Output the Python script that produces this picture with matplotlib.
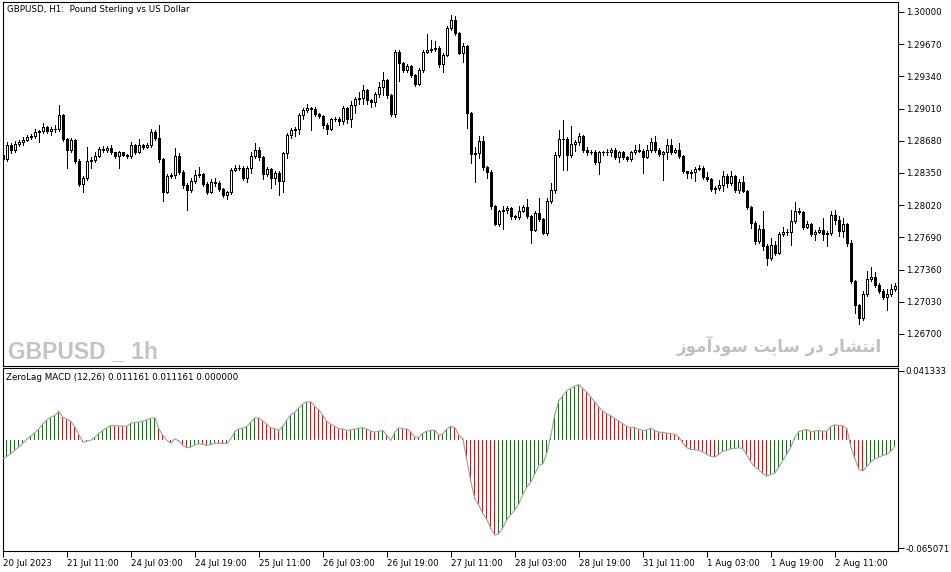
import matplotlib
matplotlib.use("Agg")
import matplotlib.pyplot as plt
from matplotlib import font_manager as fm
import numpy as np

# GBPUSD H1 candles (open = previous close)
first_open = 1.2853
closes = [
    1.2849, 1.2864, 1.2859, 1.2865, 1.2867, 1.2869, 1.2872, 1.2873, 1.2877, 1.2878,
    1.2882, 1.2878, 1.2880, 1.2880, 1.2894, 1.2870, 1.2859, 1.2869, 1.2847, 1.2824,
    1.2830, 1.2847, 1.2848, 1.2852, 1.2860, 1.2859, 1.2861, 1.2856, 1.2852, 1.2856,
    1.2853, 1.2852, 1.2864, 1.2856, 1.2864, 1.2862, 1.2864, 1.2877, 1.2871, 1.2849,
    1.2816, 1.2832, 1.2833, 1.2852, 1.2836, 1.2823, 1.2818, 1.2827, 1.2833, 1.2834,
    1.2824, 1.2816, 1.2826, 1.2825, 1.2819, 1.2812, 1.2815, 1.2838, 1.2840, 1.2840,
    1.2830, 1.2840, 1.2852, 1.2859, 1.2851, 1.2834, 1.2839, 1.2830, 1.2835, 1.2827,
    1.2855, 1.2874, 1.2879, 1.2880, 1.2894, 1.2900, 1.2902, 1.2901, 1.2895, 1.2893,
    1.2884, 1.2880, 1.2890, 1.2890, 1.2888, 1.2902, 1.2890, 1.2905, 1.2911, 1.2912,
    1.2920, 1.2910, 1.2908, 1.2916, 1.2923, 1.2930, 1.2915, 1.2895, 1.2959, 1.2948,
    1.2941, 1.2945, 1.2935, 1.2926, 1.2941, 1.2959, 1.2961, 1.2962, 1.2963, 1.2947,
    1.2956, 1.2984, 1.2992, 1.2978, 1.2958, 1.2965, 1.2896, 1.2854, 1.2855, 1.2868,
    1.2841, 1.2836, 1.2801, 1.2783, 1.2796, 1.2797, 1.2799, 1.2791, 1.2790, 1.2796,
    1.2800, 1.2791, 1.2777, 1.2794, 1.2788, 1.2773, 1.2806, 1.2818, 1.2853, 1.2870,
    1.2870, 1.2853, 1.2865, 1.2867, 1.2873, 1.2859, 1.2857, 1.2856, 1.2846, 1.2856,
    1.2856, 1.2856, 1.2859, 1.2851, 1.2856, 1.2851, 1.2849, 1.2856, 1.2859, 1.2858,
    1.2851, 1.2859, 1.2867, 1.2859, 1.2854, 1.2856, 1.2864, 1.2856, 1.2859, 1.2852,
    1.2837, 1.2835, 1.2836, 1.2839, 1.2840, 1.2831, 1.2829, 1.2819, 1.2820, 1.2823,
    1.2832, 1.2825, 1.2832, 1.2818, 1.2826, 1.2817, 1.2800, 1.2784, 1.2765, 1.2778,
    1.2760, 1.2748, 1.2761, 1.2753, 1.2772, 1.2774, 1.2774, 1.2786, 1.2796, 1.2795,
    1.2780, 1.2783, 1.2772, 1.2774, 1.2777, 1.2772, 1.2773, 1.2792, 1.2787, 1.2776,
    1.2783, 1.2763, 1.2724, 1.2700, 1.2686, 1.2711, 1.2726, 1.2728, 1.2720, 1.2714,
    1.2708, 1.2711, 1.2716, 1.2719]
highs = [
    1.2856, 1.2867, 1.2866, 1.2868, 1.2869, 1.2872, 1.2874, 1.2875, 1.2880, 1.2879,
    1.2886, 1.2883, 1.2882, 1.2884, 1.2905, 1.2895, 1.2871, 1.2871, 1.2870, 1.2849,
    1.2832, 1.2862, 1.2851, 1.2856, 1.2862, 1.2863, 1.2863, 1.2864, 1.2857, 1.2858,
    1.2857, 1.2854, 1.2867, 1.2865, 1.2870, 1.2865, 1.2866, 1.2880, 1.2879, 1.2884,
    1.2850, 1.2834, 1.2835, 1.2861, 1.2855, 1.2838, 1.2825, 1.2830, 1.2838, 1.2841,
    1.2835, 1.2826, 1.2829, 1.2830, 1.2827, 1.2820, 1.2817, 1.2840, 1.2843, 1.2843,
    1.2842, 1.2842, 1.2856, 1.2866, 1.2862, 1.2852, 1.2841, 1.2840, 1.2837, 1.2837,
    1.2857, 1.2876, 1.2881, 1.2882, 1.2896, 1.2902, 1.2906, 1.2903, 1.2903, 1.2896,
    1.2894, 1.2886, 1.2891, 1.2892, 1.2892, 1.2904, 1.2903, 1.2909, 1.2913, 1.2918,
    1.2925, 1.2921, 1.2911, 1.2918, 1.2928, 1.2938, 1.2931, 1.2916, 1.2961, 1.2961,
    1.2949, 1.2947, 1.2946, 1.2936, 1.2943, 1.2961, 1.2977, 1.2971, 1.2970, 1.2965,
    1.2958, 1.2986, 1.2997, 1.2996, 1.2980, 1.2968, 1.2966, 1.2897, 1.2862, 1.2873,
    1.2873, 1.2842, 1.2838, 1.2802, 1.2797, 1.2801, 1.2801, 1.2800, 1.2792, 1.2801,
    1.2802, 1.2808, 1.2792, 1.2796, 1.2809, 1.2789, 1.2809, 1.2825, 1.2856, 1.2879,
    1.2889, 1.2872, 1.2883, 1.2869, 1.2876, 1.2874, 1.2862, 1.2859, 1.2859, 1.2858,
    1.2858, 1.2860, 1.2861, 1.2861, 1.2858, 1.2858, 1.2852, 1.2858, 1.2864, 1.2865,
    1.2860, 1.2864, 1.2871, 1.2873, 1.2861, 1.2858, 1.2870, 1.2870, 1.2861, 1.2866,
    1.2853, 1.2837, 1.2838, 1.2841, 1.2843, 1.2842, 1.2836, 1.2830, 1.2822, 1.2828,
    1.2837, 1.2834, 1.2837, 1.2833, 1.2829, 1.2832, 1.2818, 1.2801, 1.2786, 1.2782,
    1.2796, 1.2762, 1.2768, 1.2765, 1.2774, 1.2780, 1.2778, 1.2797, 1.2805, 1.2799,
    1.2796, 1.2786, 1.2784, 1.2777, 1.2780, 1.2789, 1.2776, 1.2796, 1.2797, 1.2791,
    1.2789, 1.2784, 1.2766, 1.2725, 1.2701, 1.2714, 1.2735, 1.2739, 1.2734, 1.2722,
    1.2716, 1.2716, 1.2721, 1.2722]
lows = [
    1.2843, 1.2847, 1.2855, 1.2857, 1.2863, 1.2864, 1.2868, 1.2870, 1.2871, 1.2867,
    1.2876, 1.2876, 1.2874, 1.2877, 1.2878, 1.2868, 1.2840, 1.2857, 1.2845, 1.2822,
    1.2816, 1.2828, 1.2840, 1.2846, 1.2851, 1.2857, 1.2857, 1.2854, 1.2850, 1.2840,
    1.2852, 1.2850, 1.2850, 1.2854, 1.2855, 1.2860, 1.2861, 1.2862, 1.2869, 1.2846,
    1.2806, 1.2814, 1.2830, 1.2830, 1.2834, 1.2820, 1.2797, 1.2815, 1.2825, 1.2831,
    1.2822, 1.2813, 1.2814, 1.2822, 1.2817, 1.2810, 1.2808, 1.2813, 1.2837, 1.2838,
    1.2828, 1.2826, 1.2835, 1.2850, 1.2848, 1.2829, 1.2832, 1.2820, 1.2824, 1.2812,
    1.2816, 1.2850, 1.2871, 1.2873, 1.2875, 1.2890, 1.2898, 1.2879, 1.2893, 1.2891,
    1.2881, 1.2875, 1.2879, 1.2888, 1.2884, 1.2885, 1.2886, 1.2882, 1.2896, 1.2906,
    1.2906, 1.2906, 1.2903, 1.2904, 1.2913, 1.2915, 1.2912, 1.2893, 1.2892, 1.2929,
    1.2938, 1.2939, 1.2933, 1.2924, 1.2925, 1.2939, 1.2958, 1.2959, 1.2960, 1.2944,
    1.2939, 1.2955, 1.2982, 1.2976, 1.2957, 1.2949, 1.2881, 1.2845, 1.2826, 1.2850,
    1.2838, 1.2830, 1.2798, 1.2782, 1.2781, 1.2778, 1.2794, 1.2788, 1.2788, 1.2788,
    1.2795, 1.2789, 1.2763, 1.2776, 1.2786, 1.2772, 1.2771, 1.2804, 1.2814, 1.2851,
    1.2838, 1.2838, 1.2851, 1.2858, 1.2864, 1.2856, 1.2853, 1.2854, 1.2844, 1.2834,
    1.2853, 1.2853, 1.2852, 1.2849, 1.2846, 1.2849, 1.2847, 1.2847, 1.2854, 1.2856,
    1.2835, 1.2850, 1.2857, 1.2857, 1.2852, 1.2828, 1.2849, 1.2854, 1.2855, 1.2850,
    1.2835, 1.2830, 1.2830, 1.2827, 1.2838, 1.2829, 1.2827, 1.2817, 1.2814, 1.2818,
    1.2817, 1.2821, 1.2823, 1.2815, 1.2814, 1.2815, 1.2798, 1.2779, 1.2762, 1.2763,
    1.2756, 1.2741, 1.2746, 1.2751, 1.2752, 1.2770, 1.2771, 1.2761, 1.2784, 1.2793,
    1.2778, 1.2779, 1.2770, 1.2766, 1.2773, 1.2766, 1.2760, 1.2771, 1.2783, 1.2770,
    1.2769, 1.2760, 1.2722, 1.2691, 1.2680, 1.2684, 1.2709, 1.2724, 1.2718, 1.2712,
    1.2706, 1.2695, 1.2709, 1.2714]

# ZeroLag MACD histogram
macd = [
    -0.0114, -0.0099, -0.0084, -0.0063, -0.0042, -0.0021, 0.0003, 0.0024, 0.0042, 0.0066,
    0.0096, 0.0120, 0.0136, 0.0146, 0.0170, 0.0135, 0.0123, 0.0111, 0.0076, 0.0030,
    -0.0014, -0.0009, -0.0003, 0.0016, 0.0038, 0.0057, 0.0072, 0.0086, 0.0084, 0.0083,
    0.0082, 0.0081, 0.0100, 0.0103, 0.0106, 0.0112, 0.0120, 0.0129, 0.0132, 0.0066,
    0.0026, -0.0004, -0.0020, 0.0006, -0.0008, -0.0034, -0.0048, -0.0044, -0.0030, -0.0024,
    -0.0028, -0.0034, -0.0028, -0.0020, -0.0021, -0.0024, -0.0023, 0.0006, 0.0050, 0.0066,
    0.0070, 0.0080, 0.0106, 0.0132, 0.0131, 0.0112, 0.0092, 0.0072, 0.0066, 0.0056,
    0.0080, 0.0120, 0.0150, 0.0166, 0.0192, 0.0216, 0.0228, 0.0227, 0.0200, 0.0180,
    0.0146, 0.0110, 0.0092, 0.0080, 0.0066, 0.0065, 0.0056, 0.0060, 0.0064, 0.0070,
    0.0072, 0.0064, 0.0052, 0.0046, 0.0052, 0.0056, 0.0026, -0.0004, 0.0046, 0.0072,
    0.0066, 0.0065, 0.0046, 0.0016, 0.0015, 0.0040, 0.0052, 0.0056, 0.0057, 0.0026,
    0.0036, 0.0066, 0.0080, 0.0072, 0.0026, 0.0006, -0.0124, -0.0254, -0.0354, -0.0394,
    -0.0444, -0.0480, -0.0534, -0.0574, -0.0564, -0.0528, -0.0480, -0.0450, -0.0420, -0.0384,
    -0.0328, -0.0284, -0.0254, -0.0204, -0.0154, -0.0144, -0.0080, 0.0026, 0.0156, 0.0236,
    0.0266, 0.0296, 0.0310, 0.0322, 0.0332, 0.0306, 0.0286, 0.0256, 0.0226, 0.0196,
    0.0172, 0.0156, 0.0144, 0.0126, 0.0112, 0.0096, 0.0080, 0.0072, 0.0074, 0.0062,
    0.0056, 0.0060, 0.0070, 0.0056, 0.0046, 0.0044, 0.0040, 0.0036, 0.0032, 0.0016,
    -0.0020, -0.0048, -0.0058, -0.0060, -0.0064, -0.0074, -0.0088, -0.0100, -0.0104, -0.0088,
    -0.0070, -0.0064, -0.0054, -0.0052, -0.0048, -0.0054, -0.0094, -0.0134, -0.0164, -0.0180,
    -0.0204, -0.0220, -0.0208, -0.0200, -0.0164, -0.0124, -0.0084, -0.0044, 0.0016, 0.0050,
    0.0056, 0.0062, 0.0050, 0.0052, 0.0056, 0.0052, 0.0051, 0.0080, 0.0090, 0.0086,
    0.0084, 0.0066, -0.0044, -0.0114, -0.0178, -0.0188, -0.0160, -0.0134, -0.0114, -0.0104,
    -0.0094, -0.0088, -0.0068, -0.0040]

price_ticks = [1.30000, 1.29670, 1.29340, 1.29010, 1.28680, 1.28350,
               1.28020, 1.27690, 1.27360, 1.27030, 1.26700]
macd_ticks = [0.041333, -0.065071]
time_labels = ["20 Jul 2023", "21 Jul 11:00", "24 Jul 03:00", "24 Jul 19:00",
               "25 Jul 11:00", "26 Jul 03:00", "26 Jul 19:00", "27 Jul 11:00",
               "28 Jul 03:00", "28 Jul 19:00", "31 Jul 11:00", "1 Aug 03:00",
               "1 Aug 19:00", "2 Aug 11:00"]
bars_per_label = 16

W, H = 951, 572
def box(l, t, r, b):
    return [l / W, 1 - b / H, (r - l) / W, (b - t) / H]

plt.rcParams["font.family"] = "DejaVu Sans"
fig = plt.figure(figsize=(W / 100, H / 100), dpi=100)
ax = fig.add_axes(box(2.5, 2, 898, 366))
ax2 = fig.add_axes(box(2.5, 368, 898, 551))

n = len(closes)
x = np.arange(n)
c = np.array(closes)
o = np.concatenate([[first_open], c[:-1]])
up = c >= o

ax.vlines(x, lows, highs, color="black", lw=0.7, antialiased=False, zorder=2)
ax.bar(x, np.abs(c - o), bottom=np.minimum(o, c), width=0.45,
       color=np.where(up, "white", "black"), edgecolor="black",
       linewidth=0.7, antialiased=False, zorder=3)

xl = (-0.1, (898 - 2.9) / 4)
ax.set_xlim(*xl)
ax.set_ylim(1.30123 - 366 * 0.0001025, 1.30123 - 2 * 0.0001025)
ax.yaxis.tick_right()
ax.set_yticks(price_ticks)
ax.set_yticklabels([f"{p:.5f}" for p in price_ticks])
ax.set_xticks([])

m = np.array(macd)
rising = np.diff(np.concatenate([[m[0] - 1], m])) > 0
ax2.bar(x, m, width=0.25, color=np.where(rising, "#008000", "#ff0000"),
        linewidth=0, antialiased=False, zorder=2)
ax2.plot(x, m, color="#a0a0a0", lw=0.8, zorder=3)
ax2.set_xlim(*xl)
per_px = (macd_ticks[0] - macd_ticks[1]) / (548 - 371)
ax2.set_ylim(macd_ticks[1] - 3 * per_px, macd_ticks[0] + 3 * per_px)
ax2.yaxis.tick_right()
ax2.set_yticks(macd_ticks)
ax2.set_yticklabels([f"{v:.6f}" for v in macd_ticks])
ax2.set_xticks(np.arange(len(time_labels)) * bars_per_label)
ax2.set_xticklabels(time_labels, ha="left")

for a in (ax, ax2):
    for s in a.spines.values():
        s.set_linewidth(0.8)
    a.tick_params(axis="both", direction="out", length=4, width=0.7,
                  labelsize=6.2, pad=1.5)

fig.text(7 / W, 1 - 9 / H, "GBPUSD, H1:  Pound Sterling vs US Dollar",
         fontsize=6.3, va="center")
fig.text(6 / W, 1 - 377 / H, "ZeroLag MACD (12,26) 0.011161 0.011161 0.000000",
         fontsize=6.3, va="center")

installed = {f.name for f in fm.fontManager.ttflist}
if "Liberation Sans Narrow" in installed:
    wm_family, wm_size = "Liberation Sans Narrow", 21
else:
    wm_family, wm_size = "Liberation Sans", 16.5
fig.text(8 / W, 1 - 358 / H, "GBPUSD _ 1h", fontsize=wm_size, fontweight="bold",
         color="#c4c4c4", va="baseline", family=wm_family)
# Persian watermark, glyphs given in presentation forms (visual order)
fa = ("\uFEAF\uFEEE\uFEE3\uFE81\uFEA9\uFEEE\uFEB3 \uFE96\uFBFE\uFE8E\uFEB3 "
      "\uFEAD\uFEA9 \uFEAD\uFE8E\uFEB8\uFE98\uFEE7\uFE8D")
fig.text(882 / W, 1 - 346 / H, fa, fontsize=12, fontweight="bold",
         color="#c0c0c0", ha="right", va="center", family="DejaVu Sans")

fig.savefig("out.png", dpi=100)
